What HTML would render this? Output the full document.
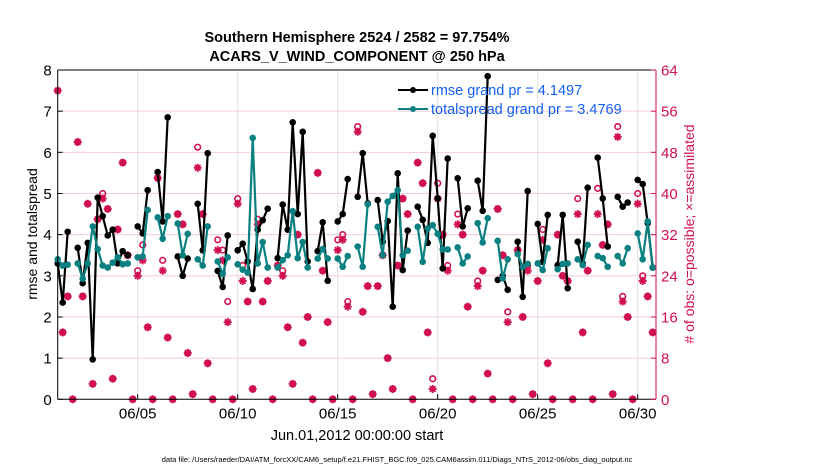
<!DOCTYPE html>
<html><head><meta charset="utf-8">
<style>
body{margin:0;background:#fff;width:830px;height:470px;overflow:hidden;font-family:"Liberation Sans",Arial,sans-serif;}
svg text{font-family:"Liberation Sans",Arial,sans-serif;}
</style></head>
<body>
<svg id="chart" width="830" height="470" xmlns="http://www.w3.org/2000/svg">
<rect width="830" height="470" fill="#fff"/>
<g id="grid"></g>
<g id="marks"></g>
<g id="axes"></g>
<text x="357" y="42" text-anchor="middle" font-size="14.5" font-weight="bold">Southern Hemisphere 2524 / 2582 = 97.754%</text>
<text x="357" y="61" text-anchor="middle" font-size="14.5" font-weight="bold">ACARS_V_WIND_COMPONENT @ 250 hPa</text>
<text transform="translate(37,234) rotate(-90)" text-anchor="middle" font-size="14">rmse and totalspread</text>
<text transform="translate(694,234) rotate(-90)" text-anchor="middle" font-size="14" fill="#d1104f"># of obs: o=possible; ×=assimilated</text>
<text x="357" y="440" text-anchor="middle" font-size="14.5">Jun.01,2012 00:00:00 start</text>
<text x="397" y="462" text-anchor="middle" font-size="7.5">data file: /Users/raeder/DAI/ATM_forcXX/CAM6_setup/f.e21.FHIST_BGC.f09_025.CAM6assim.011/Diags_NTrS_2012-06/obs_diag_output.nc</text>
<g>
  <line x1="398" y1="90" x2="428" y2="90" stroke="#000" stroke-width="2"/>
  <circle cx="413" cy="90" r="3" fill="#000"/>
  <text x="431" y="95" font-size="14.5" fill="#1460f0">rmse grand pr = 4.1497</text>
  <line x1="398" y1="109" x2="428" y2="109" stroke="#0a8080" stroke-width="2"/>
  <circle cx="413" cy="109" r="3" fill="#0a8080"/>
  <text x="431" y="114" font-size="14.5" fill="#1460f0">totalspread grand pr = 3.4769</text>
</g>
</svg>
<script>
const N = null;
const rmse = [3.3,2.35,4.07,N,3.68,2.82,3.8,0.97,4.9,4.45,3.98,4.12,3.3,3.6,3.5,N,
4.2,4.03,5.08,N,5.52,4.32,6.85,N,3.47,3.0,3.42,N,4.75,3.62,5.98,N,
3.12,2.73,3.98,N,3.62,3.78,3.35,2.68,4.12,4.35,4.63,N,3.43,4.73,4.12,6.73,
4.5,6.5,3.35,N,3.6,4.3,2.88,N,4.32,4.5,5.35,N,4.92,5.98,4.76,N,
4.84,3.83,4.33,2.25,5.49,3.14,4.1,N,4.68,4.36,3.8,6.4,4.88,3.18,5.85,N,
5.37,4.2,4.64,N,5.31,4.58,7.85,N,2.9,3.0,2.66,N,3.83,2.49,5.06,N,
4.26,3.34,4.48,N,3.26,4.48,2.7,N,3.83,3.3,5.14,N,5.87,4.88,3.71,N,
4.92,4.68,4.78,N,5.33,5.23,4.28,3.2];
const spread = [3.4,3.25,3.27,N,3.3,2.93,3.3,4.2,3.65,3.25,3.2,3.32,3.45,3.28,3.3,N,
3.45,3.47,4.6,N,4.42,3.9,4.45,N,4.27,3.5,4.02,N,3.4,3.25,4.2,N,
3.35,3.05,3.45,N,3.28,3.15,3.08,6.35,3.3,3.82,3.2,N,3.2,3.38,3.5,4.57,
3.43,3.82,3.2,N,3.42,3.65,3.42,N,3.42,3.22,3.48,N,3.71,3.22,4.74,N,
4.19,3.5,4.8,4.94,5.08,3.5,3.61,N,4.19,3.34,4.15,4.23,4.02,3.64,3.64,N,
3.69,3.3,3.47,N,4.28,3.81,4.4,N,3.85,2.94,3.4,N,3.53,3.22,3.29,N,
3.3,3.14,3.67,N,3.16,3.29,3.3,N,3.4,3.26,3.75,N,3.48,3.43,3.22,N,
3.48,3.3,3.67,N,4.03,3.4,4.32,3.2];
const possible = [60,13,20,0,50,20,38,3,35,40,37,4,33,46,28,0,
25,30,14,0,43,27,12,0,36,34,9,1,49,36,7,0,
31,29,19,0,39,26,19,2,35,19,23,0,26,25,14,3,
32,11,16,0,44,25,15,0,31,32,19,0,53,17,22,1,
22,28,8,2,26,39,36,0,46,42,13,4,42,32,26,0,
36,32,18,0,23,25,5,0,37,28,17,0,29,16,26,1,
23,33,7,0,32,24,23,0,39,13,25,0,41,30,34,1,
53,20,16,0,40,24,20,13];
const assimilated = [60,13,20,0,50,20,38,3,35,39,37,4,33,46,28,0,
24,27,14,0,43,25,12,0,36,34,9,1,45,36,7,0,
29,27,15,0,38,23,19,2,34,19,23,0,26,24,14,3,
32,11,16,0,44,25,15,0,29,31,18,0,52,17,22,1,
22,28,8,2,26,39,36,0,46,42,13,2,39,32,25,0,
34,32,18,0,22,25,5,0,37,28,15,0,29,16,25,1,
23,31,7,0,32,24,23,0,36,13,25,0,36,30,34,1,
51,19,16,0,38,23,20,13];
const yTicks = [0,1,2,3,4,5,6,7,8];
const y2Ticks = [0,8,16,24,32,40,48,56,64];
const xTickDays = [5,10,15,20,25,30];
const xTickLabels = ["06/05","06/10","06/15","06/20","06/25","06/30"];

const NS="http://www.w3.org/2000/svg";
const L=57.7, R=656, T=70, B=399.3;
const xDay = d => L + (d-1)*20;
const xIdx = i => L + i*5;
const yL = v => B - v/8*(B-T);
const yR = v => B - v/64*(B-T);
const red="#d1104f", teal="#0a8080";
function mk(tag, attrs, parent){const e=document.createElementNS(NS,tag);for(const k in attrs)e.setAttribute(k,attrs[k]);parent.appendChild(e);return e;}
const grid=document.getElementById('grid'), marks=document.getElementById('marks'), axes=document.getElementById('axes');

yTicks.forEach(v=>{ if(v>0&&v<8){
  const g=mk('line',{x1:L,x2:R,y1:yL(v),y2:yL(v),stroke:'#f3cbd8','stroke-width':1},grid);
  
  
}});
xTickDays.forEach(d=>{
  const g=mk('line',{x1:xDay(d),x2:xDay(d),y1:T,y2:B,stroke:'#e2e2e2','stroke-width':1},grid);
  
  
});

function drawSeries(arr,color,name){
  let seg=[];
  const flush=()=>{ if(seg.length>1){
    const p=mk('polyline',{points:seg.join(' '),fill:'none',stroke:color,'stroke-width':2.2,'stroke-linejoin':'round'},marks);
    
    
  } seg=[]; };
  arr.forEach((v,i)=>{ if(v===null){flush();return;} seg.push(xIdx(i)+','+yL(v)); });
  flush();
  arr.forEach((v,i)=>{ if(v===null)return;
    const c=mk('circle',{cx:xIdx(i),cy:yL(v),r:3.3,fill:color},marks);
    
    
  });
}
possible.forEach((v,i)=>{
  const c=mk('circle',{cx:xIdx(i),cy:yR(v),r:2.8,fill:'none',stroke:red,'stroke-width':1.6},marks);
  
  
});
assimilated.forEach((v,i)=>{
  const x=xIdx(i), y=yR(v), s=4;
  const g=mk('g',{stroke:red,'stroke-width':1.9},marks);
  
  
  mk('line',{x1:x-s,x2:x+s,y1:y,y2:y},g);
  mk('line',{x1:x,x2:x,y1:y-s,y2:y+s},g);
  mk('line',{x1:x-s*0.7,x2:x+s*0.7,y1:y-s*0.7,y2:y+s*0.7},g);
  mk('line',{x1:x-s*0.7,x2:x+s*0.7,y1:y+s*0.7,y2:y-s*0.7},g);
});
drawSeries(rmse,'#000','rmse');
drawSeries(spread,teal,'totalspread');

let a=mk('line',{x1:L,x2:L,y1:T,y2:B,stroke:'#000','stroke-width':1},axes);

a=mk('line',{x1:L,x2:R,y1:T,y2:T,stroke:'#000','stroke-width':1},axes);

a=mk('line',{x1:L,x2:R,y1:B,y2:B,stroke:'#000','stroke-width':1},axes);

a=mk('line',{x1:R,x2:R,y1:T,y2:B,stroke:red,'stroke-width':1},axes);

yTicks.forEach(v=>{
  mk('line',{x1:L,x2:L+5,y1:yL(v),y2:yL(v),stroke:'#000'},axes);
  const t=mk('text',{x:L-6,y:yL(v)+5.5,'text-anchor':'end','font-size':15},axes);
  t.textContent=v;
  
  
});
y2Ticks.forEach(v=>{
  mk('line',{x1:R-5,x2:R,y1:yR(v),y2:yR(v),stroke:red},axes);
  const t=mk('text',{x:R+5,y:yR(v)+5.5,'font-size':15,fill:red},axes);
  t.textContent=v;
  
  
});
xTickDays.forEach((d,i)=>{
  mk('line',{x1:xDay(d),x2:xDay(d),y1:B,y2:B-5,stroke:'#000'},axes);
  const t=mk('text',{x:xDay(d),y:B+19,'text-anchor':'middle','font-size':15},axes);
  t.textContent=xTickLabels[i];
  
  
});
</script>
</body></html>
